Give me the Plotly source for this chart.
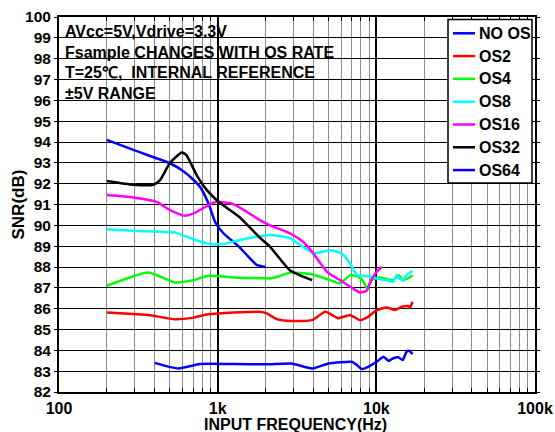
import plotly.graph_objects as go

# Input frequency (Hz) and SNR (dB) for each oversampling setting
no_os_f = [200, 300, 375, 500, 608, 700, 773, 873, 963, 1087, 1365, 1762, 2000]
no_os_snr = [94.1, 93.6, 93.33, 92.98, 92.6, 92.2, 91.85, 91.07, 90.17, 89.62, 88.97, 88.1, 88.0]

os2_f = [200, 294, 366, 538, 703, 873, 1254, 1845, 2040, 2360, 2920, 3935, 4770,
         5750, 6840, 7853, 8870, 10050, 11650, 13140, 14440, 15900, 16300, 16900]
os2_snr = [85.81, 85.74, 85.7, 85.49, 85.57, 85.73, 85.82, 85.85, 85.77, 85.5, 85.41, 85.45, 85.85,
           85.54, 85.7, 85.45, 85.61, 85.93, 86.06, 85.93, 86.09, 86.13, 86.06, 86.33]

os4_f = [200, 366, 538, 703, 873, 1254, 1940, 2141, 2470, 2850, 3825, 5120, 5890,
         6840, 7720, 8300, 8730, 9300, 10530, 11650, 12770, 13760, 14780, 15900, 16900]
os4_snr = [87.1, 87.74, 87.26, 87.37, 87.58, 87.5, 87.46, 87.45, 87.57, 87.73, 87.66, 87.37, 87.21,
           87.61, 87.53, 87.29, 86.97, 87.37, 87.5, 87.42, 87.37, 87.61, 87.37, 87.46, 87.6]

os8_f = [200, 309, 538, 703, 895, 1087, 1385, 1762, 2141, 2850, 3450, 4030, 5120, 6040,
         6840, 7550, 8530, 9300, 10530, 11950, 12770, 13400, 14100, 14780, 15500, 16300, 16900]
os8_snr = [89.81, 89.73, 89.65, 89.33, 89.1, 89.1, 89.3, 89.45, 89.53, 89.38, 88.97, 88.65, 88.8, 88.65,
           88.17, 87.61, 87.57, 87.53, 87.42, 87.34, 87.29, 87.61, 87.42, 87.34, 87.61, 87.73, 87.82]

os16_f = [200, 294, 413, 500, 621, 739, 873, 985, 1254, 1525, 1845, 2141, 2850, 3450,
          3935, 4885, 5890, 7124, 7853, 8653, 9300, 10050, 10800]
os16_snr = [91.46, 91.34, 91.13, 90.73, 90.46, 90.65, 90.97, 91.13, 91.02, 90.65, 90.25, 90.0, 89.62, 89.21,
            88.73, 87.77, 87.37, 86.97, 86.78, 86.85, 87.37, 87.77, 88.0]

os32_f = [200, 294, 393, 433, 500, 594, 635, 739, 853, 1013, 1365, 1835, 2141, 2850, 3935]
os32_snr = [92.13, 91.95, 91.95, 92.17, 92.99, 93.5, 93.37, 92.4, 91.7, 91.13, 90.41, 89.42, 88.97, 87.85, 87.37]

os64_f = [400, 566, 773, 1254, 2040, 2920, 3935, 5000, 7000, 7550, 8100, 8870, 10050,
          11100, 11950, 12770, 13760, 14650, 15500, 16100, 16900]
os64_snr = [83.4, 83.13, 83.34, 83.34, 83.33, 83.37, 83.13, 83.37, 83.45, 83.29, 83.1, 83.21, 83.45,
            83.69, 83.49, 83.62, 83.67, 83.53, 83.93, 83.98, 83.82]

series_names = ["NO OS", "OS2", "OS4", "OS8", "OS16", "OS32", "OS64"]
series_colors = ["#0000FF", "#FF0000", "#00FF00", "#00FFFF", "#FF00FF", "#000000", "#0000FF"]
series_data = [(no_os_f, no_os_snr), (os2_f, os2_snr), (os4_f, os4_snr), (os8_f, os8_snr),
               (os16_f, os16_snr), (os32_f, os32_snr), (os64_f, os64_snr)]

x_tickvals = [100, 1000, 10000, 100000]
x_ticktext = ["100", "1k", "10k", "100k"]

note_lines = ["AVcc=5V,Vdrive=3.3V",
              "Fsample CHANGES WITH OS RATE",
              "T=25\u2103,\u00a0\u00a0INTERNAL REFERENCE",
              "\u00b15V RANGE"]

x_title = "INPUT FREQUENCY(Hz)"
y_title = "SNR(dB)"

FONT = "Liberation Sans, Arial, sans-serif"

W, H = 555, 432
ml, mr, mt, mb = 59, 20, 17, 40
pw, ph = W - ml - mr, H - mt - mb


def px_x(x):
    return (x - ml) / pw


def px_y(y):
    return 1 - (y - mt) / ph


def bold(size):
    return dict(family=FONT, size=size, color="black", weight="bold")


fig = go.Figure()
for name, color, (f, s) in zip(series_names, series_colors, series_data):
    fig.add_trace(go.Scatter(
        x=f, y=s, name=name, mode="lines", showlegend=False,
        line=dict(color=color, width=2.5, shape="spline", smoothing=0.5),
    ))

# Condition notes in the upper-left corner of the plot
for i, txt in enumerate(note_lines):
    fig.add_annotation(
        text=txt, xref="paper", yref="paper",
        x=px_x(63), y=px_y(31.5 + i * 20.6),
        xanchor="left", yanchor="middle", showarrow=False, font=bold(16),
    )

# Legend box in the upper-right corner
fig.add_shape(type="rect", xref="paper", yref="paper",
              x0=px_x(448), x1=px_x(532), y0=px_y(183), y1=px_y(19.5),
              line=dict(color="black", width=1.5), fillcolor="white", layer="above")
for i, (name, color) in enumerate(zip(series_names, series_colors)):
    yc = 33.3 + i * 22.8
    fig.add_shape(type="line", xref="paper", yref="paper",
                  x0=px_x(453), x1=px_x(475), y0=px_y(yc), y1=px_y(yc),
                  line=dict(color=color, width=2.5), layer="above")
    fig.add_annotation(
        text=name, xref="paper", yref="paper", x=px_x(476.5), y=px_y(yc),
        xanchor="left", yanchor="middle", showarrow=False, font=bold(16),
    )

# Axis titles
fig.add_annotation(text=x_title, xref="paper", yref="paper",
                   x=px_x(295), y=px_y(424), xanchor="center", yanchor="middle",
                   showarrow=False, font=bold(16))
fig.add_annotation(text=y_title, xref="paper", yref="paper",
                   x=px_x(17.5), y=px_y(205), xanchor="center", yanchor="middle",
                   textangle=-90, showarrow=False, font=bold(17))

fig.update_layout(
    width=W, height=H,
    margin=dict(l=ml, r=mr, t=mt, b=mb, pad=0, autoexpand=False),
    paper_bgcolor="white", plot_bgcolor="white",
    font=dict(family=FONT, color="black"),
    showlegend=False,
    xaxis=dict(
        type="log", range=[2, 5], automargin=False,
        tickvals=x_tickvals, ticktext=x_ticktext,
        tickfont=bold(16), ticklabelstandoff=1,
        showgrid=True, gridcolor="black", gridwidth=1.5,
        showline=True, linecolor="black", linewidth=2, mirror="allticks",
        ticks="inside", ticklen=4, tickcolor="black",
        minor=dict(dtick="D1", showgrid=True, gridcolor="#8c8c8c", gridwidth=1,
                   ticks="inside", ticklen=4, tickcolor="black"),
        zeroline=False,
    ),
    yaxis=dict(
        range=[82, 100], dtick=1, tick0=82, automargin=False,
        tickfont=bold(15.5),
        showgrid=True, gridcolor="black", gridwidth=1.2,
        showline=True, linecolor="black", linewidth=2, mirror="allticks",
        ticks="outside", ticklen=3, tickcolor="black",
        zeroline=False,
    ),
)

fig.write_html("out.html")
